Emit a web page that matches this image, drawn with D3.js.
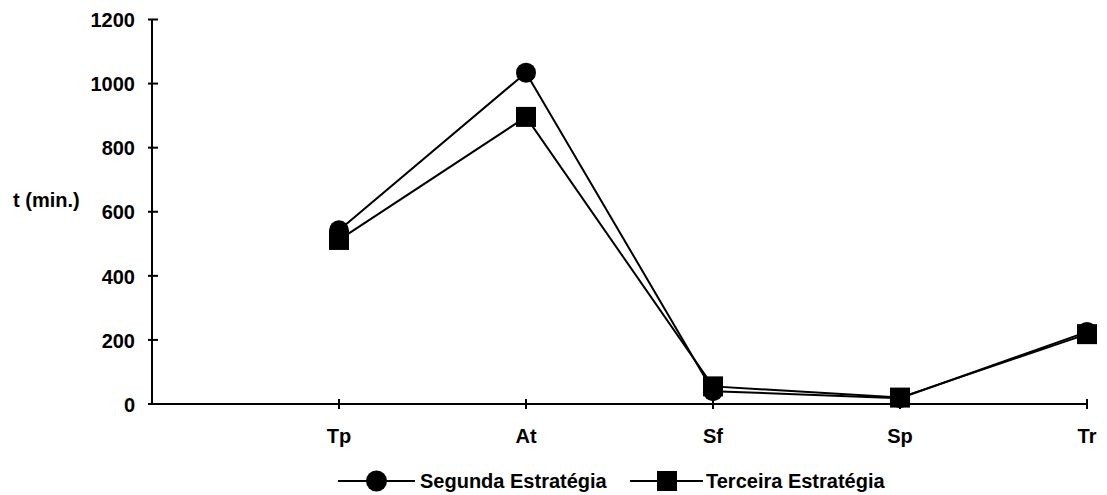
<!DOCTYPE html>
<html>
<head>
<meta charset="utf-8">
<script src="https://cdn.jsdelivr.net/npm/d3@7"></script>
<style>
  html, body { margin: 0; padding: 0; background: #fff; }
  svg { display: block; }
  text { font-family: "Liberation Sans", Arial, sans-serif; font-weight: bold; fill: #000; }
</style>
</head>
<body>
<svg id="chart" width="1107" height="495"></svg>
<script>
// Categories on the horizontal axis
const categories = ["Tp", "At", "Sf", "Sp", "Tr"];
// Times (min.) for each strategy
const segunda = [542, 1034, 40, 18, 225];
const terceira = [512, 896, 55, 20, 218];
// Vertical axis ticks
const yTicks = [0, 200, 400, 600, 800, 1000, 1200];
const seriesNames = ["Segunda Estratégia", "Terceira Estratégia"];

const svg = d3.select("#chart");
const plotLeft = 152, plotRight = 1087, plotTop = 19.5, plotBottom = 404;
const fontSize = "20px";

// An empty slot sits before the first category
const slots = [""].concat(categories);
const x = d3.scalePoint().domain(slots).range([plotLeft, plotRight]);
const y = d3.scaleLinear().domain([0, 1200]).range([plotBottom, plotTop]);

// Y axis labels
const yAxis = svg.append("g").attr("transform", `translate(${plotLeft},0)`)
  .call(d3.axisLeft(y).tickValues(yTicks).tickSize(0).tickPadding(17).tickFormat(d3.format("d")));
yAxis.select(".domain").remove();
yAxis.selectAll("text")
  .style("font-size", fontSize)
  .style("font-family", "'Liberation Sans', Arial, sans-serif")
  .style("font-weight", "bold")
  .attr("dy", "0.36em");

// Y axis line and crossing ticks
svg.append("line").attr("x1", plotLeft).attr("x2", plotLeft).attr("y1", plotTop).attr("y2", plotBottom)
  .attr("stroke", "#000").attr("stroke-width", 2);
svg.append("g").selectAll("line").data(yTicks).join("line")
  .attr("x1", plotLeft - 4).attr("x2", plotLeft + 6)
  .attr("y1", d => y(d)).attr("y2", d => y(d))
  .attr("stroke", "#000").attr("stroke-width", 2);

// X axis line, ticks and labels
svg.append("line").attr("x1", plotLeft).attr("x2", plotRight).attr("y1", plotBottom).attr("y2", plotBottom)
  .attr("stroke", "#000").attr("stroke-width", 2);
svg.append("g").selectAll("line").data(categories).join("line")
  .attr("x1", d => x(d)).attr("x2", d => x(d))
  .attr("y1", plotBottom - 5).attr("y2", plotBottom + 5)
  .attr("stroke", "#000").attr("stroke-width", 2);
svg.append("g").selectAll("text").data(categories).join("text")
  .attr("x", d => x(d)).attr("y", 443)
  .attr("text-anchor", "middle").style("font-size", fontSize)
  .text(d => d);

// Y axis title
svg.append("text").attr("x", 13).attr("y", 207).style("font-size", fontSize).text("t (min.)");

const line = d3.line().x((d, i) => x(categories[i])).y(d => y(d));

// Segunda Estratégia: line with circles
svg.append("path").datum(segunda).attr("d", line)
  .attr("fill", "none").attr("stroke", "#000").attr("stroke-width", 2);
svg.append("g").selectAll("circle").data(segunda).join("circle")
  .attr("cx", (d, i) => x(categories[i])).attr("cy", d => y(d)).attr("r", 10).attr("fill", "#000");

// Terceira Estratégia: line with squares
svg.append("path").datum(terceira).attr("d", line)
  .attr("fill", "none").attr("stroke", "#000").attr("stroke-width", 2);
svg.append("g").selectAll("rect").data(terceira).join("rect")
  .attr("x", (d, i) => x(categories[i]) - 10).attr("y", d => y(d) - 10)
  .attr("width", 20).attr("height", 20).attr("fill", "#000");

// Legend
const ly = 481;
const lg1 = svg.append("g");
lg1.append("line").attr("x1", 338).attr("x2", 415).attr("y1", ly).attr("y2", ly).attr("stroke", "#000").attr("stroke-width", 2);
lg1.append("circle").attr("cx", 376.5).attr("cy", ly).attr("r", 10.5).attr("fill", "#000");
lg1.append("text").attr("x", 420).attr("y", ly).attr("dy", "0.36em").style("font-size", fontSize).text(seriesNames[0]);
const lg2 = svg.append("g");
lg2.append("line").attr("x1", 630).attr("x2", 703).attr("y1", ly).attr("y2", ly).attr("stroke", "#000").attr("stroke-width", 2);
lg2.append("rect").attr("x", 657).attr("y", ly - 10).attr("width", 20).attr("height", 20).attr("fill", "#000");
lg2.append("text").attr("x", 706).attr("y", ly).attr("dy", "0.36em").style("font-size", fontSize).text(seriesNames[1]);
</script>
</body>
</html>
